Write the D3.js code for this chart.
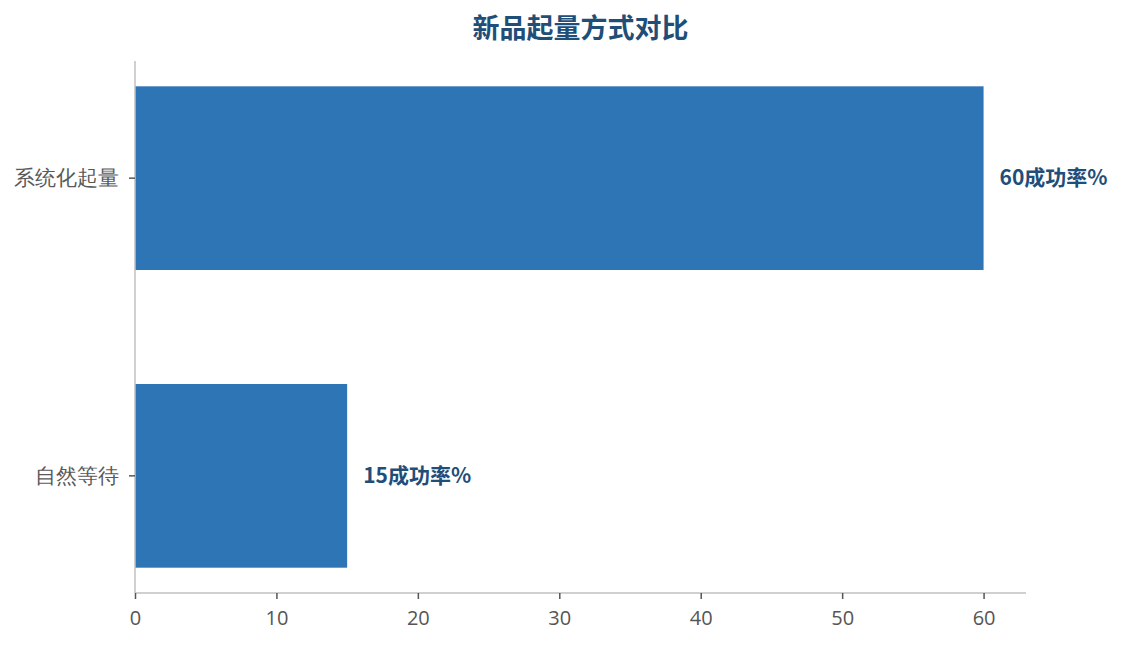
<!DOCTYPE html>
<html>
<head>
<meta charset="utf-8">
<script src="https://cdn.jsdelivr.net/npm/d3@7"></script>
<style>
  body { margin: 0; background: #fff; }
  svg { display: block; font-family: "Noto Sans CJK SC", "Noto Sans", sans-serif; }
</style>
</head>
<body>
<div class="chart"></div>
<script>
const categories = ['系统化起量', '自然等待'];
const values = [60, 15];
const valueSuffix = '成功率%';
const xTicks = [0, 10, 20, 30, 40, 50, 60];
const title = '新品起量方式对比';

const margin = { top: 61, right: 98, bottom: 52, left: 135 };
const width = 1124 - margin.left - margin.right;
const height = 645 - margin.top - margin.bottom;

const root = d3
  .select('.chart')
  .append('svg')
  .attr('width', 1124)
  .attr('height', 645);

const svg = root.append('g').attr('transform', `translate(${margin.left}, ${margin.top})`);

const xScale = d3
  .scaleLinear()
  .domain([0, 63])
  .range([0, width]);
const yScale = d3
  .scaleBand()
  .domain(categories)
  .range([0, height])
  .paddingInner(0.383)
  .paddingOuter(0.085);

// bars
svg
  .selectAll('rect.bar')
  .data(categories)
  .enter()
  .append('rect')
  .attr('class', 'bar')
  .attr('x', xScale(0))
  .attr('y', d => yScale(d))
  .attr('width', (d, i) => xScale(values[i]) - xScale(0))
  .attr('height', yScale.bandwidth())
  .attr('fill', '#2e75b6');

// value labels
svg
  .selectAll('text.val')
  .data(categories)
  .enter()
  .append('text')
  .attr('class', 'val')
  .attr('x', (d, i) => xScale(values[i]) + 16)
  .attr('y', d => yScale(d) + yScale.bandwidth() / 2)
  .attr('dy', '0.35em')
  .attr('fill', '#1f4e79')
  .style('font-size', '21px')
  .style('font-weight', 'bold')
  .text((d, i) => values[i] + valueSuffix);

// x axis
const xAxis = svg
  .append('g')
  .attr('transform', `translate(0, ${height})`)
  .call(d3.axisBottom(xScale).tickValues(xTicks).tickSize(6).tickPadding(12));
xAxis.select('.domain').attr('stroke', '#c0c0c0').attr('stroke-width', 1.5).attr('d', `M0,0H${width}`);
xAxis.selectAll('.tick line').attr('stroke', '#555').attr('stroke-width', 1.5);
xAxis.selectAll('.tick text').attr('fill', '#555').style('font-size', '20px').style('font-family', '"Open Sans", "Noto Sans", sans-serif');

// y axis
const yAxis = svg.append('g').call(d3.axisLeft(yScale).tickSize(6).tickPadding(10));
yAxis.select('.domain').attr('stroke', '#c0c0c0').attr('stroke-width', 1.5).attr('d', `M0,0V${height}`);
yAxis.selectAll('.tick line').attr('stroke', '#555').attr('stroke-width', 1.5);
yAxis.selectAll('.tick text').attr('fill', '#595959').style('font-size', '21px');

// title
root
  .append('text')
  .attr('x', margin.left + width / 2)
  .attr('y', 38)
  .attr('text-anchor', 'middle')
  .attr('fill', '#1f4e79')
  .style('font-size', '27px')
  .style('font-weight', 'bold')
  .text(title);
</script>
</body>
</html>
